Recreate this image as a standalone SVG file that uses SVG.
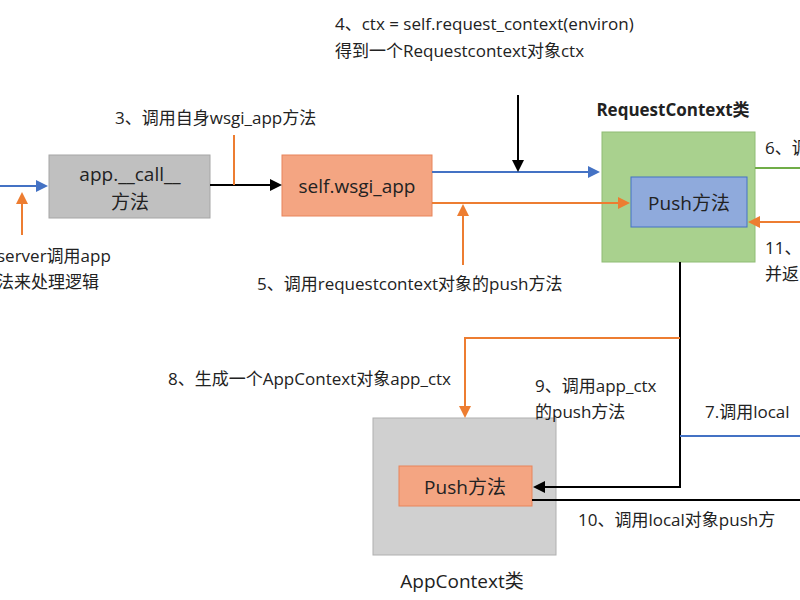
<svg xmlns="http://www.w3.org/2000/svg" width="800" height="600" viewBox="0 0 800 600">
<style>
text{font-family:"Open Sans","Noto Sans CJK SC",sans-serif;font-size:17px;fill:#222}
.n{font-size:19px}
.b{stroke:#4472c4;stroke-width:2;fill:none}
.o{stroke:#ed7d31;stroke-width:2;fill:none}
.k{stroke:#000;stroke-width:2;fill:none}
.g{stroke:#70ad47;stroke-width:2;fill:none}
</style>
<defs>
<marker id="ab" markerWidth="6" markerHeight="6" refX="5" refY="3" orient="auto"><path d="M0,0L6,3L0,6z" fill="#4472c4"/></marker>
<marker id="ao" markerWidth="6" markerHeight="6" refX="5" refY="3" orient="auto"><path d="M0,0L6,3L0,6z" fill="#ed7d31"/></marker>
<marker id="ak" markerWidth="6" markerHeight="6" refX="5" refY="3" orient="auto"><path d="M0,0L6,3L0,6z" fill="#000"/></marker>
</defs>
<rect width="800" height="600" fill="#fff"/>
<g id="call"><rect x="49" y="155" width="161" height="63" fill="#c0c0c0" stroke="#a6a6a6"/><text class="n" x="130" y="181" text-anchor="middle">app.__call__</text><text class="n" x="130" y="209" text-anchor="middle">方法</text></g>
<g id="wsgi"><rect x="282" y="155" width="150" height="61" fill="#f4a582" stroke="#e8845a"/><text class="n" x="357" y="193" text-anchor="middle">self.wsgi_app</text></g>
<g id="reqctx"><rect x="602" y="132" width="153" height="130" fill="#a9d18e" stroke="#8fbc74"/><text x="673" y="116" text-anchor="middle" font-weight="bold">RequestContext类</text>
<rect x="631" y="177" width="116" height="50" fill="#8faadc" stroke="#4472c4"/><text class="n" x="689" y="210" text-anchor="middle">Push方法</text></g>
<g id="appctx"><rect x="373" y="418" width="183" height="137" fill="#d0d0d0" stroke="#b0b0b0"/><text class="n" x="462" y="588" text-anchor="middle">AppContext类</text>
<rect x="399" y="466" width="133" height="40" fill="#f4a582" stroke="#e8845a"/><text class="n" x="465" y="494" text-anchor="middle">Push方法</text></g>
<g id="connectors">
<path class="b" d="M0,186H46" marker-end="url(#ab)"/>
<path class="o" d="M22,235V194" marker-end="url(#ao)"/>
<path class="k" d="M210,185H280" marker-end="url(#ak)"/>
<path class="o" d="M234,135V185"/>
<path class="b" d="M432,172H598" marker-end="url(#ab)"/>
<path class="k" d="M518,95V170" marker-end="url(#ak)"/>
<path class="o" d="M432,203H628" marker-end="url(#ao)"/>
<path class="o" d="M463,265V206" marker-end="url(#ao)"/>
<path class="g" d="M755,168H800"/>
<path class="o" d="M800,222H750" marker-end="url(#ao)"/>
<path class="k" d="M680,262V487H535" marker-end="url(#ak)"/>
<path class="o" d="M680,338H465V416" marker-end="url(#ao)"/>
<path class="b" d="M680,436H800"/>
<path class="k" d="M532,500H800"/>
</g>
<text x="335" y="30">4、ctx = self.request_context(environ)</text>
<text x="335" y="57">得到一个Requestcontext对象ctx</text>
<text x="115" y="124">3、调用自身wsgi_app方法</text>
<text x="-3" y="262">server调用app</text>
<text x="-3" y="288">法来处理逻辑</text>
<text x="257" y="290">5、调用requestcontext对象的push方法</text>
<text x="168" y="385">8、生成一个AppContext对象app_ctx</text>
<text x="535" y="392">9、调用app_ctx</text>
<text x="535" y="418">的push方法</text>
<text x="705" y="418">7.调用local</text>
<text x="578" y="526">10、调用local对象push方</text>
<text x="765" y="154">6、调</text>
<text x="765" y="254">11、</text>
<text x="765" y="280">并返</text>
</svg>
